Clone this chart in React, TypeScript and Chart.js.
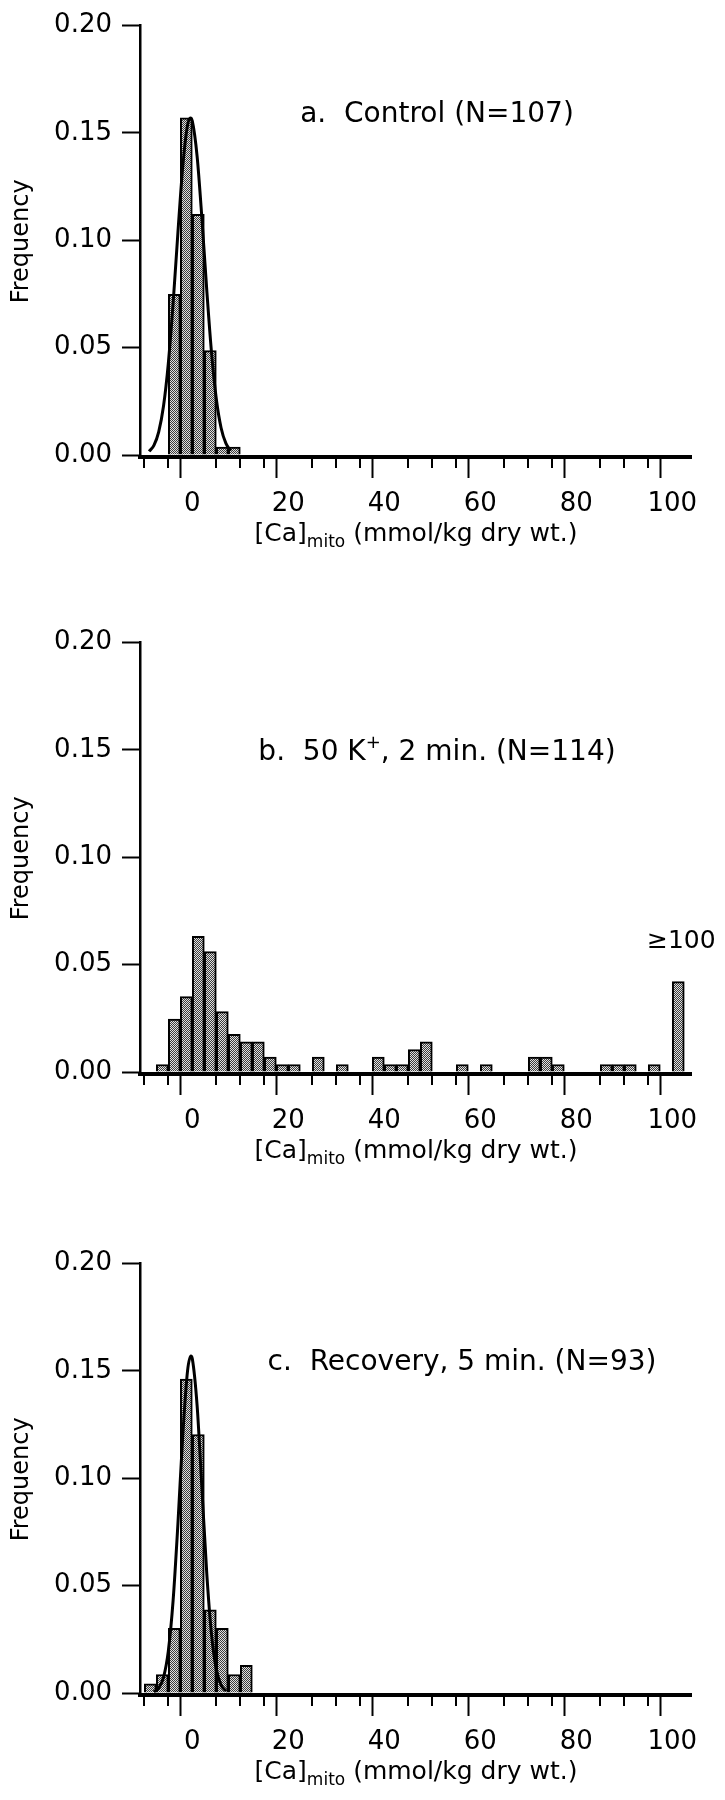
import React, { useEffect, useRef } from "react";
import { Chart, registerables } from "chart.js";

Chart.register(...registerables);

const FONT = '"DejaVu Sans", sans-serif';

// ---------- Data ----------
// Panel a: Control (N=107), bin width 2.5
const BIN_CENTERS_A = [-3.75, -1.25, 1.25, 3.75, 6.25, 8.75];
const FREQ_A = [0.0748, 0.157, 0.1121, 0.0486, 0.0037, 0.0037];
const CURVE_X_A = [-9, -8, -7, -6, -5, -4, -3, -2, -1, -0.4, 0, 1, 2, 3, 4, 5, 6, 7, 8];
const CURVE_Y_A = [0.0017, 0.0045, 0.0108, 0.0228, 0.0427, 0.0707, 0.1036, 0.1341, 0.1536, 0.157, 0.1555, 0.1391, 0.1101, 0.0771, 0.0477, 0.0261, 0.0126, 0.0054, 0.002];

// Panel b: 50 K+, 2 min (N=114)
const BIN_CENTERS_B = [
  -6.25, -3.75, -1.25, 1.25, 3.75, 6.25, 8.75, 11.25, 13.75, 16.25, 18.75,
  21.25, 23.75, 26.25, 28.75, 31.25, 33.75, 36.25, 38.75, 41.25, 43.75,
  46.25, 48.75, 51.25, 53.75, 56.25, 58.75, 61.25, 63.75, 66.25, 68.75,
  71.25, 73.75, 76.25, 78.75, 81.25, 83.75, 86.25, 88.75, 91.25, 93.75,
  96.25, 98.75, 101.25,
];
const FREQ_B = [
  0.0035, 0.0246, 0.0351, 0.0632, 0.0561, 0.0281, 0.0175, 0.014, 0.014, 0.007, 0.0035,
  0.0035, 0, 0.007, 0, 0.0035, 0, 0, 0.007, 0.0035, 0.0035,
  0.0105, 0.014, 0, 0, 0.0035, 0, 0.0035, 0, 0, 0,
  0.007, 0.007, 0.0035, 0, 0, 0, 0.0035, 0.0035, 0.0035, 0,
  0.0035, 0, 0.0421,
];

// Panel c: Recovery, 5 min (N=93)
const BIN_CENTERS_C = [-8.75, -6.25, -3.75, -1.25, 1.25, 3.75, 6.25, 8.75, 11.25];
const FREQ_C = [0.0043, 0.0086, 0.0301, 0.1462, 0.1204, 0.0387, 0.0301, 0.0086, 0.0129];
const CURVE_X_C = [-8, -7, -6, -5, -4, -3, -2, -1, -0.3, 0, 1, 2, 3, 4, 5, 6, 7];
const CURVE_Y_C = [0.0006, 0.0023, 0.0073, 0.0195, 0.0431, 0.0788, 0.1195, 0.1499, 0.157, 0.1557, 0.1338, 0.0952, 0.0561, 0.0273, 0.011, 0.0037, 0.001];

// Axis settings
const X_MIN = -10.9;
const X_MAX = 103.9;
const X_STEP = 5;
const X_LABEL_EVERY = 20;
const Y_MIN = -0.00093;
const Y_MAX = 0.2;
const Y_STEP = 0.05;

// ---------- helpers ----------
type Seg = { text: string; size: number; dy: number };
type TextItem = { segs: Seg[]; x: number; y: number; align: "center" | "left" };

function makePattern(): CanvasPattern | string {
  const c = document.createElement("canvas");
  c.width = 2;
  c.height = 2;
  const g = c.getContext("2d");
  if (!g) return "#999999";
  g.fillStyle = "#e0e0e0";
  g.fillRect(0, 0, 2, 2);
  g.fillStyle = "#3c3c3c";
  g.fillRect(0, 0, 1, 1);
  g.fillRect(1, 1, 1, 1);
  return g.createPattern(c, "repeat") || "#999999";
}

function drawSegs(ctx: CanvasRenderingContext2D, item: TextItem) {
  let total = 0;
  for (const s of item.segs) {
    ctx.font = `${s.size}px ${FONT}`;
    total += ctx.measureText(s.text).width;
  }
  let x = item.align === "center" ? item.x - total / 2 : item.x;
  ctx.fillStyle = "#000";
  ctx.textAlign = "left";
  ctx.textBaseline = "alphabetic";
  for (const s of item.segs) {
    ctx.font = `${s.size}px ${FONT}`;
    ctx.fillText(s.text, x, item.y + s.dy);
    x += ctx.measureText(s.text).width;
  }
}

const panelPlugin = {
  id: "panelText",
  afterDraw(chart: any, _args: any, opts: any) {
    const ctx: CanvasRenderingContext2D = chart.ctx;
    const xs = chart.scales.x;
    ctx.save();
    ctx.strokeStyle = "#000";
    ctx.lineWidth = 2;
    const top = xs.top;
    for (const t of xs.ticks) {
      if (Math.round(t.value) % X_LABEL_EVERY !== 0) {
        const px = Math.round(xs.getPixelForValue(t.value));
        ctx.beginPath();
        ctx.moveTo(px, top);
        ctx.lineTo(px, top + (opts.minorTickLength || 11));
        ctx.stroke();
      }
    }
    for (const item of (opts.texts || []) as TextItem[]) drawSegs(ctx, item);
    ctx.restore();
  },
};

type PanelProps = {
  top: number;
  height: number;
  centers: number[];
  freqs: number[];
  curveX?: number[];
  curveY?: number[];
  texts: TextItem[];
};

const AXIS_Y = 457; // chart-area bottom inside each panel canvas
const AREA_TOP = 25;
const AREA_LEFT = 140;
const AREA_RIGHT_PAD = 34;

function Panel({ top, height, centers, freqs, curveX, curveY, texts }: PanelProps) {
  const ref = useRef<HTMLCanvasElement | null>(null);
  useEffect(() => {
    if (!ref.current) return;
    const pattern = makePattern();
    const datasets: any[] = [];
    if (curveX && curveY) {
      datasets.push({
        type: "line",
        data: curveX.map((x, i) => ({ x, y: curveY[i] })),
        borderColor: "#000",
        borderWidth: 3,
        pointRadius: 0,
        fill: false,
        cubicInterpolationMode: "monotone",
        order: 0,
      });
    }
    datasets.push({
      type: "bar",
      data: centers.map((x, i) => ({ x, y: freqs[i] })),
      backgroundColor: pattern,
      borderColor: "#000",
      borderWidth: 2,
      barPercentage: 1,
      categoryPercentage: 1,
      order: 1,
    });
    const chart = new Chart(ref.current, {
      type: "bar",
      data: { datasets },
      options: {
        animation: false,
        responsive: false,
        maintainAspectRatio: false,
        layout: { padding: { top: AREA_TOP, right: AREA_RIGHT_PAD, left: 0, bottom: 0 } },
        plugins: {
          legend: { display: false },
          tooltip: { enabled: false },
          panelText: { texts, minorTickLength: 11 },
        } as any,
        scales: {
          x: {
            type: "linear",
            min: X_MIN,
            max: X_MAX,
            offset: false,
            ticks: {
              stepSize: X_STEP,
              includeBounds: false,
              autoSkip: false,
              maxRotation: 0,
              minRotation: 0,
              padding: 11,
              color: "#000",
              font: { family: FONT, size: 26 },
              callback: (v: any) => (Math.round(Number(v)) % X_LABEL_EVERY === 0 ? String(Math.round(Number(v))) : ""),
            },
            grid: {
              display: true,
              drawOnChartArea: false,
              drawTicks: true,
              tickLength: 21,
              tickWidth: 2,
              tickColor: (c: any) =>
                c.tick && Math.round(c.tick.value) % X_LABEL_EVERY === 0 ? "#000" : "rgba(0,0,0,0)",
            },
            border: { display: true, color: "#000", width: 4 },
            afterFit: (s: any) => {
              s.height = height - AXIS_Y;
            },
          } as any,
          y: {
            type: "linear",
            min: Y_MIN,
            max: Y_MAX,
            ticks: {
              stepSize: Y_STEP,
              includeBounds: false,
              padding: 10,
              color: "#000",
              font: { family: FONT, size: 26 },
              callback: (v: any) => Number(v).toFixed(2),
            },
            grid: {
              display: true,
              drawOnChartArea: false,
              drawTicks: true,
              tickLength: 18,
              tickWidth: 2,
              tickColor: "#000",
            },
            border: { display: true, color: "#000", width: 2.5 },
            title: {
              display: true,
              text: "Frequency",
              color: "#000",
              font: { family: FONT, size: 24 },
              padding: { top: 7, bottom: 0 },
            },
            afterFit: (s: any) => {
              s.width = AREA_LEFT;
            },
          } as any,
        },
      },
      plugins: [panelPlugin as any],
    });
    return () => chart.destroy();
  }, []);
  return (
    <div style={{ position: "absolute", left: 0, top, width: 725, height }}>
      <canvas ref={ref} width={725} height={height} style={{ display: "block", width: 725, height }} />
    </div>
  );
}

const X_TITLE = (y: number): TextItem => ({
  segs: [
    { text: "[Ca]", size: 25, dy: 0 },
    { text: "mito", size: 17, dy: 6 },
    { text: " (mmol/kg dry wt.)", size: 25, dy: 0 },
  ],
  x: 416,
  y,
  align: "center",
});

export default function App() {
  return (
    <div style={{ position: "absolute", left: 0, top: 0, width: 725, height: 1800, background: "#fff", overflow: "hidden" }}>
      <Panel
        top={0}
        height={617}
        centers={BIN_CENTERS_A}
        freqs={FREQ_A}
        curveX={CURVE_X_A}
        curveY={CURVE_Y_A}
        texts={[
          { segs: [{ text: "a.  Control (N=107)", size: 28, dy: 0 }], x: 437, y: 122, align: "center" },
          X_TITLE(541),
        ]}
      />
      <Panel
        top={617}
        height={621}
        centers={BIN_CENTERS_B}
        freqs={FREQ_B}
        texts={[
          {
            segs: [
              { text: "b.  50 K", size: 28, dy: 0 },
              { text: "+", size: 18, dy: -12 },
              { text: ", 2 min. (N=114)", size: 28, dy: 0 },
            ],
            x: 437,
            y: 143,
            align: "center",
          },
          { segs: [{ text: "\u2265100", size: 25, dy: 0 }], x: 647, y: 331, align: "left" },
          X_TITLE(541),
        ]}
      />
      <Panel
        top={1238}
        height={562}
        centers={BIN_CENTERS_C}
        freqs={FREQ_C}
        curveX={CURVE_X_C}
        curveY={CURVE_Y_C}
        texts={[
          { segs: [{ text: "c.  Recovery, 5 min. (N=93)", size: 28, dy: 0 }], x: 462, y: 132, align: "center" },
          X_TITLE(541),
        ]}
      />
    </div>
  );
}
